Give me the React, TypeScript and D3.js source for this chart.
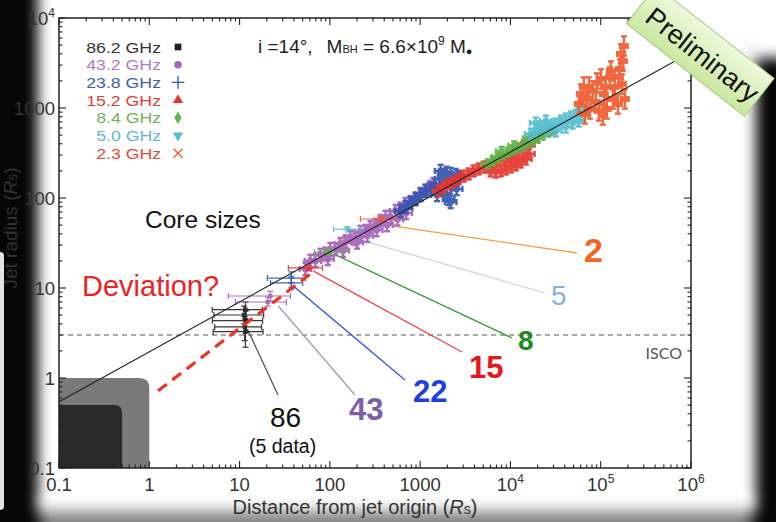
import React from "react";
import * as d3 from "d3";

const W = 776;
const H = 522;
const FONT = "'Liberation Sans', Arial, Helvetica, sans-serif";

// observing bands (legend order)
const bandNames = ["86.2 GHz", "43.2 GHz", "23.8 GHz", "15.2 GHz", "8.4 GHz", "5.0 GHz", "2.3 GHz"];
const bandColors = ["#222222", "#a462b8", "#3456ad", "#e5352c", "#5db447", "#54bdd0", "#f25a2e"];
const legendTextColors = ["#333333", "#b17cc2", "#4160ad", "#d8433b", "#6cb453", "#62bacc", "#df4c3a"];

// tick labels
const xTickVals = [0.1, 1, 10, 100, 1000, 1e4, 1e5, 1e6];
const xTickLabels = ["0.1", "1", "10", "100", "1000", "10^4", "10^5", "10^6"];
const yTickVals = [0.1, 1, 10, 100, 1000, 1e4];
const yTickLabels = ["0.1", "1", "10", "100", "1000", "10^4"];

// jet width profile per band: distance z (Rs), radius r (Rs)
const z43 = [53.6, 60.9, 69.2, 78.7, 89.3, 101, 115, 131, 149, 169, 192, 218, 248, 282, 321, 364, 414, 470, 535, 607, 689, 783, 890, 1011, 1148, 1306, 1400, 95, 140, 200, 260, 330, 430, 560, 700];
const r43 = [16.3, 20.0, 20.0, 23.3, 23.9, 27.1, 27.1, 30.8, 32.5, 36.9, 35.0, 41.9, 43.0, 47.6, 50.1, 55.5, 61.5, 61.5, 71.7, 75.4, 85.8, 90.3, 97.5, 111, 120, 133, 143, 21, 26, 32, 38, 44, 50, 58, 68];
const z23 = [607, 689, 783, 890, 1011, 1148, 1306, 1483, 1687, 1822, 1965, 2178, 2472, 2670, 1914, 2068, 2178, 1687, 2291, 2536, 1540, 1687];
const r23 = [71.7, 79.4, 88.0, 97.5, 108, 120, 126, 139, 163, 180, 190, 185, 180, 171, 111, 97.5, 90.3, 133, 143, 126, 108, 200];
const z15 = [1602, 1822, 2068, 2350, 2670, 3034, 3446, 3916, 4449, 5054, 5743, 6525, 7418, 8426, 9575, 10880, 12360, 14040, 15960, 17680, 6039, 6871, 7798, 8872, 10070, 11460, 13000, 14790, 15960, 8872, 11460];
const r15 = [120, 133, 143, 151, 163, 175, 185, 200, 210, 221, 221, 239, 258, 271, 285, 308, 350, 378, 398, 430, 200, 194, 200, 210, 221, 233, 251, 271, 308, 258, 271];
const z8 = [5598, 6363, 7231, 8212, 9333, 10605, 12050, 13690, 15560, 17680, 20090, 22820, 25940, 27990, 8000, 11000, 16000, 21000];
const r8 = [239, 258, 285, 300, 324, 341, 359, 378, 408, 441, 464, 501, 541, 555, 330, 380, 460, 520];
const z5 = [16790, 19100, 21680, 24660, 27990, 31840, 36140, 41110, 46670, 53090, 60260, 19100, 24660, 31840, 41110, 49110, 57240, 63410];
const r5 = [514, 555, 615, 584, 631, 664, 717, 755, 794, 836, 858, 681, 717, 555, 615, 681, 717, 975];
const z2 = [57240, 60260, 65040, 70240, 75800, 81850, 88310, 95410, 100460, 108400, 117000, 126400, 136400, 143600, 155000, 163200, 167500, 171700, 176100, 180700, 185300, 159100, 129700, 114000, 90640, 73920, 66720, 105700];
const r2 = [1108, 1431, 1711, 1259, 975, 1545, 1166, 926, 2100, 1431, 975, 2210, 1259, 1711, 1108, 2713, 3981, 1848, 3328, 4884, 1259, 2210, 2577, 1711, 1896, 1711, 858, 836];

// VLBI core sizes
const coreBand = [0, 0, 0, 0, 0, 1, 1, 2, 2, 3, 4, 5, 6];
const coreZ = [11.6, 11.2, 11.8, 11.4, 11.6, 21.9, 20.5, 37.5, 37.5, 58, 96, 157, 364];
const coreR = [5.74, 5.01, 4.33, 3.69, 3.27, 8.15, 6.99, 12.9, 11.4, 16.7, 25, 45, 58.4];
const coreZlo = [4.98, 5.2, 5.0, 5.3, 5.1, 7.5, 9.0, 20.3, 22, 34.7, 67.5, 110, 218];
const coreZhi = [17.9, 18.5, 18.0, 17.5, 18.2, 36.6, 33, 53.6, 50, 82.8, 138, 218, 535];
const coreRlo = [4.5, 4.0, 3.2, 2.6, 2.2, 7.2, 6.3, 10.2, 9.7, 15.5, 23, 42, 55];
const coreRhi = [7.0, 6.3, 5.6, 4.8, 4.5, 9.2, 7.9, 15.1, 13.5, 18, 27.5, 48, 62];

// parabolic fit, deviation guess, ISCO, horizon boxes
const fitZ = [0.1, 1e6];
const fitR = [0.545, 4160];
const devZ = [1.25, 69.2];
const devR = [0.72, 15.8];
const iscoR = 3;
const boxZ = [1, 0.5];
const boxR = [1, 0.5];

// core-size call-outs
const calloutText = ["2", "5", "8", "15", "22", "43", "86"];
const calloutZ = [507, 202, 110, 65.8, 39.4, 26.9, 12.2];
const calloutR = [48.8, 35.0, 23.9, 15.4, 10.5, 6.31, 3.5];

const x = d3.scaleLog().domain([0.1, 1e6]).range([59, 691]);
const y = d3.scaleLog().domain([0.1, 1e4]).range([468, 18]);

const symbolTypes = [d3.symbolSquare, d3.symbolCircle, d3.symbolPlus, d3.symbolTriangle, d3.symbolDiamond, d3.symbolTriangle, d3.symbolTimes];

function Marker({ band, cx, cy, size }: any) {
  const d = d3.symbol().type(symbolTypes[band]).size(size)();
  const stroked = band === 2 || band === 6;
  const rot = band === 5 ? " rotate(180)" : "";
  return (
    <path
      d={d}
      transform={`translate(${cx},${cy})${rot}`}
      fill={stroked ? "none" : bandColors[band]}
      stroke={stroked ? bandColors[band] : "none"}
      strokeWidth={1.3}
    />
  );
}

// dense error-bar crosses that merge into a band
function Cloud({ zs, rs, band, ex, ey }: any) {
  const c = bandColors[band];
  return (
    <g stroke={c} strokeWidth={2.4} opacity={0.92}>
      {zs.map((zv: number, i: number) => {
        const cx = x(zv), cy = y(rs[i]);
        const xl = x(zv / ex), xr = x(zv * ex);
        const yt = y(rs[i] * ey), yb = y(rs[i] / ey);
        return (
          <g key={i}>
            <line x1={xl} x2={xr} y1={cy} y2={cy} />
            <line x1={cx} x2={cx} y1={yt} y2={yb} />
            <line x1={xl} x2={xl} y1={cy - 3} y2={cy + 3} />
            <line x1={xr} x2={xr} y1={cy - 3} y2={cy + 3} />
            <line x1={cx - 3} x2={cx + 3} y1={yt} y2={yt} />
            <line x1={cx - 3} x2={cx + 3} y1={yb} y2={yb} />
            <circle cx={cx} cy={cy} r={3.4} fill={c} stroke="none" />
          </g>
        );
      })}
    </g>
  );
}

function PowLabel({ label, ...rest }: any) {
  const [base, exp] = label.split("^");
  return (
    <text {...rest}>
      {base}
      {exp && (
        <tspan fontSize={12} dy={-8}>
          {exp}
        </tspan>
      )}
    </text>
  );
}

const minorTicks = (lo: number, hi: number) => {
  const out: number[] = [];
  for (let e = lo; e < hi; e++) for (let k = 2; k < 10; k++) out.push(k * Math.pow(10, e));
  return out;
};

export default function App() {
  const X0 = 59, X1 = 691, Y0 = 18, Y1 = 468;
  const xMinor = minorTicks(-1, 6);
  const yMinor = minorTicks(-1, 4);
  const line = d3.line<number>().x((d, i) => x(fitZ[i])).y((d, i) => y(fitR[i]));
  const devLine = d3.line<number>().x((d, i) => x(devZ[i])).y((d, i) => y(devR[i]));

  const boxPath = (zv: number, rv: number, rad: number) => {
    const xr = x(zv), yt = y(rv);
    return `M${X0},${Y1}V${yt}H${xr - rad}Q${xr},${yt} ${xr},${yt + rad}V${Y1}Z`;
  };

  const calloutEnds = [[577, 253], [545, 293], [512, 338], [462, 352], [405, 380], [355, 395], [278, 395]];
  const calloutColors = ["#f5a042", "#c9d4e3", "#2f9a2f", "#f04444", "#3350e0", "#a29cba", "#555555"];
  const calloutTextColors = ["#f26522", "#8cadd6", "#1d8a1d", "#e8161b", "#1f3fe0", "#7b5ea7", "#111111"];
  const calloutPos = [[584, 262, 34, 700], [551, 305, 28, 400], [518, 350, 28, 700], [469, 378, 31, 700], [413, 402, 31, 700], [349, 420, 31, 700], [270, 427, 28, 400]];

  return (
    <svg width={W} height={H} style={{ position: "absolute", left: 0, top: 0 }} fontFamily={FONT}>
      <defs>
        <filter id="vig" x="-20%" y="-20%" width="140%" height="140%">
          <feGaussianBlur stdDeviation="7" />
        </filter>
        <linearGradient id="ban" x1="0" y1="0" x2="0" y2="1">
          <stop offset="0" stopColor="#eef9dc" />
          <stop offset="1" stopColor="#c9e7a0" />
        </linearGradient>
      </defs>

      {/* photo vignette */}
      <rect width={W} height={H} fill="#060606" />
      <rect x={40} y={495} width={712} height={40} fill="#858585" filter="url(#vig)" />
      <rect x={38} y={-40} width={718} height={551} fill="#ffffff" filter="url(#vig)" />
      <polygon points="690,-30 800,-30 800,58 750,58" fill="#ffffff" filter="url(#vig)" />
      <rect x={-6} y={252} width={10} height={258} rx={4} fill="#e4e4e4" />

      {/* event horizon boxes */}
      <path d={boxPath(boxZ[0], boxR[0], 10)} fill="#7a7a7a" />
      <path d={boxPath(boxZ[1], boxR[1], 8)} fill="#2a2a2a" />

      {/* ISCO */}
      <line x1={X0} x2={X1} y1={y(iscoR)} y2={y(iscoR)} stroke="#555" strokeWidth={1.1} strokeDasharray="5 4" />
      <text x={682} y={359} fontSize={16} fill="#555" textAnchor="end" fontFamily="Lato, 'Open Sans', sans-serif">
        ISCO
      </text>

      {/* call-out leader lines */}
      {calloutText.map((t, i) => (
        <line key={t} x1={x(calloutZ[i])} y1={y(calloutR[i])} x2={calloutEnds[i][0]} y2={calloutEnds[i][1]} stroke={calloutColors[i]} strokeWidth={1.3} />
      ))}

      {/* jet data clouds */}
      <Cloud zs={z43} rs={r43} band={1} ex={1.16} ey={1.17} />
      <Cloud zs={z23} rs={r23} band={2} ex={1.16} ey={1.17} />
      <Cloud zs={z15} rs={r15} band={3} ex={1.16} ey={1.15} />
      <Cloud zs={z8} rs={r8} band={4} ex={1.16} ey={1.12} />
      <Cloud zs={z5} rs={r5} band={5} ex={1.16} ey={1.15} />
      <Cloud zs={z2} rs={r2} band={6} ex={1.1} ey={1.28} />

      {/* core sizes */}
      {coreZ.map((zv, i) => {
        const c = bandColors[coreBand[i]];
        const cx = x(zv), cy = y(coreR[i]);
        const xl = x(coreZlo[i]), xr = x(coreZhi[i]);
        const yt = y(coreRhi[i]), yb = y(coreRlo[i]);
        return (
          <g key={i} stroke={c} strokeWidth={1.2} opacity={0.9}>
            <line x1={xl} x2={xr} y1={cy} y2={cy} />
            <line x1={xl} x2={xl} y1={cy - 3} y2={cy + 3} />
            <line x1={xr} x2={xr} y1={cy - 3} y2={cy + 3} />
            <line x1={cx} x2={cx} y1={yt} y2={yb} />
            <line x1={cx - 3} x2={cx + 3} y1={yt} y2={yt} />
            <line x1={cx - 3} x2={cx + 3} y1={yb} y2={yb} />
            <Marker band={coreBand[i]} cx={cx} cy={cy} size={20} />
          </g>
        );
      })}

      {/* fit and deviation lines */}
      <path d={line(fitZ) || ""} fill="none" stroke="#222" strokeWidth={1.1} />
      <path d={devLine(devZ) || ""} fill="none" stroke="#ee3322" strokeWidth={3.2} strokeDasharray="11 7" />

      {/* frame and ticks */}
      <rect x={X0} y={Y0} width={X1 - X0} height={Y1 - Y0} fill="none" stroke="#222" strokeWidth={1.5} />
      <g stroke="#222" strokeWidth={1.1}>
        {xTickVals.map((v) => (
          <g key={"xm" + v}>
            <line x1={x(v)} x2={x(v)} y1={Y1} y2={Y1 - 7} />
            <line x1={x(v)} x2={x(v)} y1={Y0} y2={Y0 + 7} />
          </g>
        ))}
        {xMinor.map((v) => (
          <g key={"xn" + v}>
            <line x1={x(v)} x2={x(v)} y1={Y1} y2={Y1 - 3.5} />
            <line x1={x(v)} x2={x(v)} y1={Y0} y2={Y0 + 3.5} />
          </g>
        ))}
        {yTickVals.map((v) => (
          <g key={"ym" + v}>
            <line x1={X0} x2={X0 + 7} y1={y(v)} y2={y(v)} />
            <line x1={X1} x2={X1 - 7} y1={y(v)} y2={y(v)} />
          </g>
        ))}
        {yMinor.map((v) => (
          <g key={"yn" + v}>
            <line x1={X0} x2={X0 + 3.5} y1={y(v)} y2={y(v)} />
            <line x1={X1} x2={X1 - 3.5} y1={y(v)} y2={y(v)} />
          </g>
        ))}
      </g>
      {xTickVals.map((v, i) => (
        <PowLabel key={"xl" + v} label={xTickLabels[i]} x={x(v)} y={491} fontSize={18.5} fill="#333" textAnchor="middle" />
      ))}
      {yTickVals.map((v, i) => (
        <PowLabel key={"yl" + v} label={yTickLabels[i]} x={55} y={y(v) + 6.5} fontSize={18.5} fill="#333" textAnchor="end" />
      ))}

      {/* axis titles */}
      <text x={355} y={514} fontSize={20} fill="#333" textAnchor="middle">
        Distance from jet origin (<tspan fontStyle="italic">R</tspan>
        <tspan fontSize={14}>s</tspan>)
      </text>
      <text transform="translate(17,228) rotate(-90)" fontSize={19} fill="#333" textAnchor="middle">
        Jet radius (<tspan fontStyle="italic">R</tspan>
        <tspan fontSize={14}>s</tspan>)
      </text>

      {/* legend */}
      {bandNames.map((b, i) => (
        <g key={b}>
          <text
            transform={`translate(161,${52.5 + i * 17.7}) scale(1.18,1)`}
            fontSize={15}
            fill={legendTextColors[i]}
            textAnchor="end"
          >
            {b}
          </text>
          <Marker band={i} cx={178} cy={47 + i * 17.7} size={i === 2 || i === 6 ? 55 : 45} />
        </g>
      ))}

      <text x={258} y={53} fontSize={19} fill="#222">
        i =14°,
        <tspan dx={14}>M</tspan>
        <tspan fontSize={11}>BH</tspan>
        <tspan> = 6.6×10</tspan>
        <tspan fontSize={12} dy={-8}>9</tspan>
        <tspan dy={8}> M</tspan>
        <tspan fontSize={11} dy={2}>●</tspan>
      </text>

      <text x={145} y={228} fontSize={24.5} fill="#111">
        Core sizes
      </text>
      <text x={82} y={296} fontSize={29} fill="#ee2222">
        Deviation?
      </text>

      {/* call-out numbers */}
      {calloutText.map((t, i) => (
        <text key={"ct" + t} x={calloutPos[i][0]} y={calloutPos[i][1]} fontSize={calloutPos[i][2]} fontWeight={calloutPos[i][3]} fill={calloutTextColors[i]}>
          {t}
        </text>
      ))}
      <text x={249} y={453} fontSize={19.5} fill="#111">
        (5 data)
      </text>

      {/* preliminary banner */}
      <g transform="translate(700.3,51.1) rotate(38.05)">
        <rect x={-75} y={-24} width={150} height={48} fill="url(#ban)" stroke="#a9c97e" strokeWidth={1} />
        <text x={4} y={11} fontSize={27} textAnchor="middle" fill="#111">
          Preliminary
        </text>
      </g>
    </svg>
  );
}
